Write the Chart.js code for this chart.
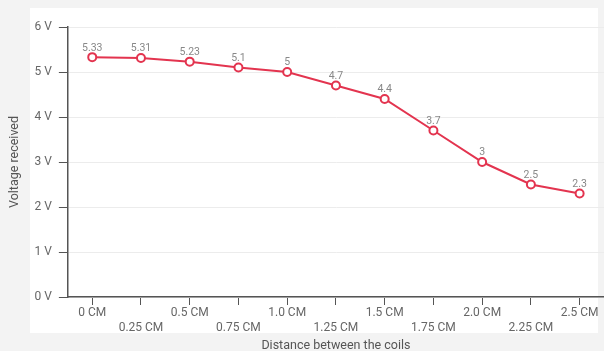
<!DOCTYPE html>
<html>
<head>
<meta charset="utf-8">
<script src="https://cdn.jsdelivr.net/npm/chart.js@4"></script>
<style>
  html, body { margin: 0; padding: 0; background: #f3f3f3; }
  #wrap { width: 604px; height: 351px; }
</style>
</head>
<body>
<div id="wrap"><canvas id="coil-chart" width="604" height="351"></canvas></div>
<script>
const distances = ['0 CM', '0.25 CM', '0.5 CM', '0.75 CM', '1.0 CM', '1.25 CM', '1.5 CM', '1.75 CM', '2.0 CM', '2.25 CM', '2.5 CM'];
const voltages = [5.33, 5.31, 5.23, 5.1, 5, 4.7, 4.4, 3.7, 3, 2.5, 2.3];
const yTicks = [0, 1, 2, 3, 4, 5, 6];

const lineRed = '#e3344f';
const axisDark = '#555555';

// gray frame with a white panel behind the plot
const panelBg = {
    id: 'panelBg',
    beforeDraw(chart) {
        const ctx = chart.ctx;
        ctx.save();
        ctx.fillStyle = '#f3f3f3';
        ctx.fillRect(0, 0, chart.width, chart.height);
        ctx.fillStyle = '#ffffff';
        ctx.fillRect(30, 8, 568, 325);
        ctx.restore();
    }
};

// value labels above each point
const valueLabels = {
    id: 'valueLabels',
    afterDatasetsDraw(chart) {
        const ctx = chart.ctx;
        const meta = chart.getDatasetMeta(0);
        ctx.save();
        ctx.font = '10.5px Roboto';
        ctx.fillStyle = '#888888';
        ctx.textAlign = 'center';
        ctx.textBaseline = 'bottom';
        meta.data.forEach((pt, i) => {
            ctx.fillText(String(voltages[i]), pt.x, pt.y - 4);
        });
        ctx.restore();
    }
};

new Chart(document.getElementById('coil-chart'), {
    type: 'line',
    data: {
        labels: distances,
        datasets: [{
            data: voltages,
            borderColor: lineRed,
            borderWidth: 2,
            pointRadius: 4,
            pointBorderWidth: 2,
            pointBackgroundColor: '#ffffff',
            pointBorderColor: lineRed,
            tension: 0,
            clip: false
        }]
    },
    options: {
        responsive: false,
        animation: false,
        layout: {
            autoPadding: false,
            padding: { left: 9, top: 27, right: 0, bottom: 0 }
        },
        plugins: {
            legend: { display: false },
            tooltip: { enabled: false }
        },
        scales: {
            x: {
                type: 'category',
                offset: true,
                border: { display: true, color: axisDark, width: 1.5 },
                grid: {
                    drawOnChartArea: false,
                    drawTicks: true,
                    tickLength: 8,
                    tickColor: axisDark,
                    offset: false
                },
                ticks: {
                    autoSkip: false,
                    maxRotation: 0,
                    minRotation: 0,
                    padding: 0,
                    color: '#666666',
                    font: { family: 'Roboto', size: 12, lineHeight: 1.25 },
                    callback: function (value, index) {
                        const lab = distances[index];
                        return index % 2 ? ['', lab] : [lab];
                    }
                },
                title: {
                    display: true,
                    text: 'Distance between the coils',
                    color: '#555555',
                    font: { family: 'Roboto', size: 12.5, lineHeight: 0.8 },
                    padding: { top: 6, bottom: 0 }
                }
            },
            y: {
                min: yTicks[0],
                max: yTicks[yTicks.length - 1],
                border: { display: true, color: axisDark, width: 1.5 },
                grid: {
                    color: '#ececec',
                    drawTicks: true,
                    tickLength: 9,
                    tickColor: axisDark
                },
                afterBuildTicks(axis) {
                    axis.ticks = yTicks.map(v => ({ value: v }));
                },
                ticks: {
                    padding: 7,
                    color: '#666666',
                    font: { family: 'Roboto', size: 12 },
                    callback: v => v + ' V'
                },
                title: {
                    display: true,
                    text: 'Voltage received',
                    color: '#555555',
                    font: { family: 'Roboto', size: 12.5, lineHeight: 1 },
                    padding: { top: 0, bottom: 6 }
                }
            }
        }
    },
    plugins: [panelBg, valueLabels]
});
</script>
</body>
</html>
